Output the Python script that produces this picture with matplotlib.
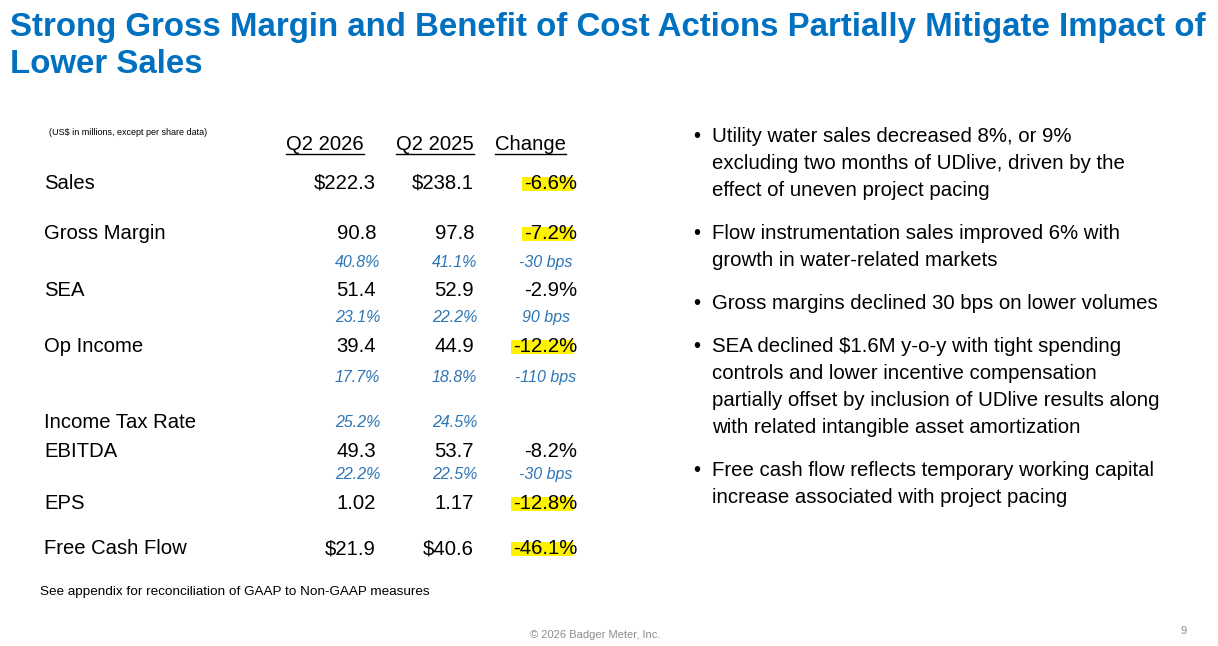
import matplotlib
matplotlib.use('Agg')
import matplotlib.pyplot as plt
from matplotlib.patches import Rectangle

plt.rcParams['font.family'] = ['Liberation Sans', 'DejaVu Sans']

# ---- slide text / data ----
title_lines = ['Strong Gross Margin and Benefit of Cost Actions Partially Mitigate Impact of',
               'Lower Sales']
units_note = '(US$ in millions, except per share data)'
col_headers = ['Q2 2026', 'Q2 2025', 'Change']

row_labels = ['Sales', 'Gross Margin', 'SEA', 'Op Income', 'Income Tax Rate',
              'EBITDA', 'EPS', 'Free Cash Flow']
q2_2026 = ['$222.3', '90.8', '51.4', '39.4', '', '49.3', '1.02', '$21.9']
q2_2025 = ['$238.1', '97.8', '52.9', '44.9', '', '53.7', '1.17', '$40.6']
change = ['-6.6%', '-7.2%', '-2.9%', '-12.2%', '', '-8.2%', '-12.8%', '-46.1%']
highlighted = [True, True, False, True, False, False, True, True]

# percent-of-sales rows (under Gross Margin, SEA, Op Income, EBITDA)
pct_rows = ['Gross Margin', 'SEA', 'Op Income', 'EBITDA']
pct_2026 = ['40.8%', '23.1%', '17.7%', '22.2%']
pct_2025 = ['41.1%', '22.2%', '18.8%', '22.5%']
pct_change = ['-30 bps', '90 bps', '-110 bps', '-30 bps']
tax_rate_2026 = '25.2%'
tax_rate_2025 = '24.5%'

bullets = [
    ['Utility water sales decreased 8%, or 9%',
     'excluding two months of UDlive, driven by the',
     'effect of uneven project pacing'],
    ['Flow instrumentation sales improved 6% with',
     'growth in water-related markets'],
    ['Gross margins declined 30 bps on lower volumes'],
    ['SEA declined $1.6M y-o-y with tight spending',
     'controls and lower incentive compensation',
     'partially offset by inclusion of UDlive results along',
     'with related intangible asset amortization'],
    ['Free cash flow reflects temporary working capital',
     'increase associated with project pacing'],
]
footnote = 'See appendix for reconciliation of GAAP to Non-GAAP measures'
copyright_text = '\u00a9 2026 Badger Meter, Inc.'
page_no = '9'

# ---- layout ----
BLUE = '#0070C0'
ITAL_BLUE = '#2E75B6'
YELLOW = '#FFF200'
GREY = '#8C8C8C'

row_base = [189, 239, 296, 352, 428, 457, 509, 554]
pct_base = [267, 322, 382, 479]
col_right = [376, 474, 577]
pct_right = [380, 477]
bps_center = 546

fig = plt.figure(figsize=(12.18, 6.46), dpi=100)
ax = fig.add_axes([0, 0, 1, 1])
ax.set_xlim(0, 1218)
ax.set_ylim(646, 0)
ax.axis('off')
r = fig.canvas.get_renderer()


def fit(t, width):
    w = t.get_window_extent(r).width
    t.set_fontsize(t.get_fontsize() * width / w)


def extent(t):
    return t.get_window_extent(r).transformed(ax.transData.inverted())


# title
t1 = ax.text(10, 36, title_lines[0], color=BLUE, fontsize=22, fontweight='bold', va='baseline')
fit(t1, 1193)
ax.text(10, 73, title_lines[1], color=BLUE, fontsize=t1.get_fontsize(), fontweight='bold',
        va='baseline')

# table
note = ax.text(49, 135, units_note, fontsize=7, va='baseline')
fit(note, 158)

for i, h in enumerate(col_headers):
    right = [364, 474, 566][i]
    th = ax.text(right, 150, h, fontsize=14.6, ha='right', va='baseline')
    bb = extent(th)
    ax.plot([bb.x0, bb.x1], [153.5, 153.5], color='black', lw=1)

for i, lab in enumerate(row_labels):
    y = row_base[i]
    ax.text(44, y, lab, fontsize=14.6, va='baseline')
    for j, val in enumerate([q2_2026[i], q2_2025[i], change[i]]):
        if not val:
            continue
        tv = ax.text(col_right[j], y, val, fontsize=14.6, ha='right', va='baseline', zorder=3)
        if j == 2 and highlighted[i]:
            bb = extent(tv)
            ax.add_patch(Rectangle((bb.x0 - 2, y - 12), bb.x1 - bb.x0 - 2, 14,
                                   facecolor=YELLOW, edgecolor='none', zorder=1))

itr_y = row_base[row_labels.index('Income Tax Rate')] - 1
ax.text(pct_right[0], itr_y, tax_rate_2026, fontsize=11.5, style='italic', color=ITAL_BLUE,
        ha='right', va='baseline')
ax.text(pct_right[1], itr_y, tax_rate_2025, fontsize=11.5, style='italic', color=ITAL_BLUE,
        ha='right', va='baseline')

for k in range(len(pct_rows)):
    y = pct_base[k]
    ax.text(pct_right[0], y, pct_2026[k], fontsize=11.5, style='italic', color=ITAL_BLUE,
            ha='right', va='baseline')
    ax.text(pct_right[1], y, pct_2025[k], fontsize=11.5, style='italic', color=ITAL_BLUE,
            ha='right', va='baseline')
    ax.text(bps_center, y, pct_change[k], fontsize=11.5, style='italic', color=ITAL_BLUE,
            ha='center', va='baseline')

fn = ax.text(40, 595, footnote, fontsize=10, va='baseline')
fit(fn, 390)

# bullets
probe = ax.text(712, 142, bullets[0][0], fontsize=15.5, va='baseline')
fit(probe, 358)
bsize = probe.get_fontsize()
probe.remove()
line_i = 0
for p, lines in enumerate(bullets):
    for k, line in enumerate(lines):
        y = 142 + 27 * line_i + 16 * p
        if k == 0:
            ax.text(693, y, '\u2022', fontsize=bsize, va='baseline')
        ax.text(712, y, line, fontsize=bsize, va='baseline')
        line_i += 1

# footer
cp = ax.text(530, 638, copyright_text, fontsize=8, color=GREY, va='baseline')
fit(cp, 131)
ax.text(1187, 634, page_no, fontsize=8, color=GREY, ha='right', va='baseline')

fig.savefig('out.png', dpi=100)
